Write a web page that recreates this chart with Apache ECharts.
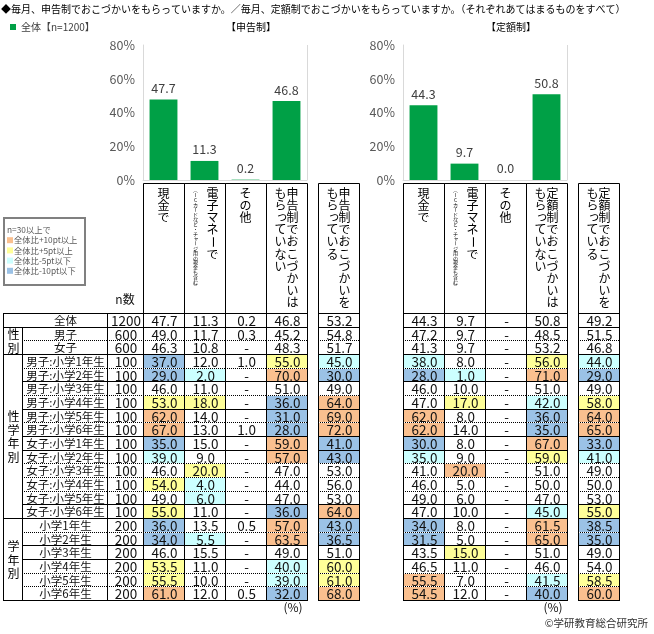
<!DOCTYPE html>
<html><head><meta charset="utf-8">
<script src="https://cdn.jsdelivr.net/npm/echarts@6/dist/echarts.min.js"></script>
<style>html,body{margin:0;padding:0;background:#fff}#c{width:654px;height:634px}</style>
</head><body><div id="c"></div><script>
const FONT = '"Noto Sans CJK JP", "Noto Sans", sans-serif';

// ---------- data ----------
const rowLabels = ['全体','男子','女子',
  '男子:小学1年生','男子:小学2年生','男子:小学3年生','男子:小学4年生','男子:小学5年生','男子:小学6年生',
  '女子:小学1年生','女子:小学2年生','女子:小学3年生','女子:小学4年生','女子:小学5年生','女子:小学6年生',
  '小学1年生','小学2年生','小学3年生','小学4年生','小学5年生','小学6年生'];
const rowN = [1200,600,600,100,100,100,100,100,100,100,100,100,100,100,100,200,200,200,200,200,200];
const groupLabels = ['', '性別', '性学年別', '学年別'];
const groupFirstRow = [0, 1, 3, 15];
const groupLastRow = [0, 2, 14, 20];

const headShinkoku = ['現金で','電子マネーで','その他','申告制でおこづかいは\nもらっていない'];
const headShinkokuExtra = ['申告制でおこづかいを\nもらっている'];
const headTeigaku = ['現金で','電子マネーで','その他','定額制でおこづかいは\nもらっていない'];
const headTeigakuExtra = ['定額制でおこづかいを\nもらっている'];
const headNote = ['', '（ICカードなど・チャージ用の現金も含む）', '', ''];

const barShinkoku = [47.7, 11.3, 0.2, 46.8];
const barTeigaku = [44.3, 9.7, 0.0, 50.8];

const shinkokuGenkin = [47.7,49.0,46.3,37.0,29.0,46.0,53.0,62.0,67.0,35.0,39.0,46.0,54.0,49.0,55.0,36.0,34.0,46.0,53.5,55.5,61.0];
const shinkokuDenshi = [11.3,11.7,10.8,12.0,2.0,11.0,18.0,14.0,13.0,15.0,9.0,20.0,4.0,6.0,11.0,13.5,5.5,15.5,11.0,10.0,12.0];
const shinkokuSonota = [0.2,0.3,null,1.0,null,null,null,null,1.0,null,null,null,null,null,null,0.5,null,null,null,null,0.5];
const shinkokuNashi = [46.8,45.2,48.3,55.0,70.0,51.0,36.0,31.0,28.0,59.0,57.0,47.0,44.0,47.0,36.0,57.0,63.5,49.0,40.0,39.0,32.0];
const shinkokuAri = [53.2,54.8,51.7,45.0,30.0,49.0,64.0,69.0,72.0,41.0,43.0,53.0,56.0,53.0,64.0,43.0,36.5,51.0,60.0,61.0,68.0];

const teigakuGenkin = [44.3,47.2,41.3,38.0,28.0,46.0,47.0,62.0,62.0,30.0,35.0,41.0,46.0,49.0,47.0,34.0,31.5,43.5,46.5,55.5,54.5];
const teigakuDenshi = [9.7,9.7,9.7,8.0,1.0,10.0,17.0,8.0,14.0,8.0,9.0,20.0,5.0,6.0,10.0,8.0,5.0,15.0,11.0,7.0,12.0];
const teigakuSonota = [null,null,null,null,null,null,null,null,null,null,null,null,null,null,null,null,null,null,null,null,null];
const teigakuNashi = [50.8,48.5,53.2,56.0,71.0,51.0,42.0,36.0,35.0,67.0,59.0,51.0,50.0,47.0,45.0,61.5,65.0,51.0,46.0,41.5,40.0];
const teigakuAri = [49.2,51.5,46.8,44.0,29.0,49.0,58.0,64.0,65.0,33.0,41.0,49.0,50.0,53.0,55.0,38.5,35.0,49.0,54.0,58.5,60.0];

const legendLabels = ['n=30以上で','全体比+10pt以上','全体比+5pt以上','全体比-5pt以下','全体比-10pt以下'];

// ---------- styles ----------
const BAR_COLOR = '#00A046';
const C_P10 = '#FAC08F', C_P5 = '#FFFF99', C_M5 = '#CCFFFF', C_M10 = '#9BC2E6';
const rowTopLine = ['s','s','d','s','d','s','d','s','d','s','s','d','d','d','s','s','d','s','s','d','d'];
const TXT = '#111';

function highlight(v, base, n) {
  if (v == null || base == null || n < 30) return null;
  const d = Math.round((v - base) * 10) / 10;
  if (d >= 10) return C_P10;
  if (d >= 5) return C_P5;
  if (d <= -10) return C_M10;
  if (d <= -5) return C_M5;
  return null;
}

function px(v) { return Math.round(v) + 0.5; }
function ln(x1, y1, x2, y2, dotted) {
  return {type: 'line', shape: {x1, y1, x2, y2},
    style: {stroke: '#000', lineWidth: 1, lineDash: dotted ? [1, 1] : null}};
}
const ROT = 'ー（）()-－';
const SMALL = 'っゃゅょッャュョァィ';
function vChars(ch, str, x, y, fs, step) {
  for (let k = 0; k < str.length; k++) {
    const c = str[k];
    let cx = x, cy = y + k * step;
    if (SMALL.indexOf(c) >= 0) { cx += fs * 0.12; cy -= fs * 0.12; }
    ch.push({type: 'text', x: cx, y: cy, rotation: ROT.indexOf(c) >= 0 ? -Math.PI / 2 : 0,
      style: {text: c, fill: '#000', fontSize: fs, fontFamily: FONT, align: 'center', verticalAlign: 'middle'}});
  }
}

// ---------- layout ----------
const grids = [], xAxes = [], yAxes = [], series = [];
function addGrid(rect, xCfg, yCfg) {
  const i = grids.length;
  grids.push(Object.assign({containLabel: false}, rect));
  xAxes.push(Object.assign({gridIndex: i}, xCfg));
  yAxes.push(Object.assign({gridIndex: i}, yCfg));
  return i;
}
const hiddenCat = (data) => ({type: 'category', data, show: false});
const rowAxis = () => ({type: 'category', data: rowLabels, inverse: true, show: false});

const TBL_TOP = 313, TBL_H = 287, HDR_TOP = 183, HDR_H = 130;

// bar charts
function barChart(left, cats, values) {
  const g = addGrid({left, top: 45, width: 164, height: 135},
    {type: 'category', data: cats, axisLabel: {show: false}, axisTick: {show: false},
     axisLine: {lineStyle: {color: '#d9d9d9'}}, splitLine: {show: true, lineStyle: {color: '#d9d9d9'}}},
    {type: 'value', min: 0, max: 80, interval: 20,
     axisLabel: {formatter: '{value}%', fontSize: 12.5, color: '#595959', fontFamily: FONT, margin: 8},
     axisLine: {show: true, lineStyle: {color: '#d9d9d9'}}, axisTick: {show: false}, splitLine: {show: false}});
  series.push({type: 'bar', name: '全体【n=1200】', xAxisIndex: g, yAxisIndex: g, data: values,
    barWidth: '68%', itemStyle: {color: BAR_COLOR},
    label: {show: true, position: 'top', distance: 5, formatter: (p) => p.value.toFixed(1),
      fontSize: 12.5, color: '#404040', fontFamily: FONT}});
}
barChart(143, headShinkoku.map(s => s.replace('\n', '')), barShinkoku);
barChart(403, headTeigaku.map(s => s.replace('\n', '')), barTeigaku);

// headers
function headerBlock(left, width, labels, notes) {
  const g = addGrid({left, top: HDR_TOP, width, height: HDR_H}, hiddenCat(labels),
    {type: 'value', min: 0, max: 1, show: false});
  series.push({type: 'custom', xAxisIndex: g, yAxisIndex: g, data: labels.map((_, i) => [i, 1]),
    renderItem: function (params, api) {
      const i = params.dataIndex;
      const top = api.coord([i, 1]), bot = api.coord([i, 0]);
      const w = api.size([1, 0])[0];
      const cx = bot[0];
      const X0 = px(cx - w / 2), X1 = px(cx + w / 2), Y0 = px(top[1]), Y1 = px(bot[1]);
      const ch = [{type: 'rect', shape: {x: X0, y: Y0, width: X1 - X0, height: Y1 - Y0},
        style: {fill: 'none', stroke: '#000', lineWidth: 1}}];
      const parts = labels[i].split('\n');
      const note = notes ? notes[i] : '';
      const sy = Y0 + 10;
      if (note) {
        vChars(ch, parts[0], cx + 8, sy, 12, 12.1);
        vChars(ch, note, cx - 9, Y0 + 7, 5, 4.8);
      } else if (parts.length === 2) {
        vChars(ch, parts[0], cx + 6, sy, 12, 12.1);
        vChars(ch, parts[1], cx - 6, sy, 12, 12.1);
      } else {
        vChars(ch, parts[0], cx, sy, 12, 12.1);
      }
      return {type: 'group', children: ch};
    }});
}
headerBlock(143, 164, headShinkoku, headNote);
headerBlock(318, 41, headShinkokuExtra, null);
headerBlock(403, 164, headTeigaku, headNote);
headerBlock(578, 41, headTeigakuExtra, null);

// generic table cell renderer
function cellSeries(g, items, fontSize) {
  const last = rowLabels.length - 1;
  series.push({type: 'custom', xAxisIndex: g, yAxisIndex: g, data: items.map(d => d.value),
    renderItem: function (params, api) {
      const it = items[params.dataIndex];
      const r = it.value[1];
      const c = api.coord(it.value);
      const s = api.size([1, 1]);
      const X0 = Math.round(c[0] - s[0] / 2), X1 = Math.round(c[0] + s[0] / 2);
      const Y0 = Math.round(c[1] - s[1] / 2), Y1 = Math.round(c[1] + s[1] / 2);
      const ch = [];
      if (it.fill) ch.push({type: 'rect', shape: {x: X0 + 1, y: Y0 + 1, width: X1 - X0 - 1, height: Y1 - Y0 - 1}, style: {fill: it.fill}});
      ch.push(ln(X0, Y0 + 0.5, X1 + 1, Y0 + 0.5, rowTopLine[r] === 'd' && !it.solidTop));
      if (!it.noLeft) ch.push(ln(X0 + 0.5, Y0, X0 + 0.5, Y1 + 1));
      if (!it.noRight) ch.push(ln(X1 + 0.5, Y0, X1 + 0.5, Y1 + 1));
      if (r === last) ch.push(ln(X0, Y1 + 0.5, X1 + 1, Y1 + 0.5));
      if (it.text) ch.push({type: 'text', x: (X0 + X1) / 2 + 1, y: (Y0 + Y1) / 2 + 1,
        style: {text: it.text, fill: TXT, fontSize: fontSize, fontFamily: FONT, align: 'center', verticalAlign: 'middle'}});
      return {type: 'group', children: ch};
    }});
}
function dataBlock(left, width, cols) {
  const g = addGrid({left, top: TBL_TOP, width, height: TBL_H}, hiddenCat(cols.map((_, i) => 'c' + i)), rowAxis());
  const items = [];
  for (let r = 0; r < rowLabels.length; r++) for (let c = 0; c < cols.length; c++) {
    const v = cols[c][r];
    items.push({value: [c, r], text: v == null ? '-' : v.toFixed(1), fill: highlight(v, cols[c][0], rowN[r])});
  }
  cellSeries(g, items, 13.5);
}
dataBlock(143, 164, [shinkokuGenkin, shinkokuDenshi, shinkokuSonota, shinkokuNashi]);
dataBlock(318, 41, [shinkokuAri]);
dataBlock(403, 164, [teigakuGenkin, teigakuDenshi, teigakuSonota, teigakuNashi]);
dataBlock(578, 41, [teigakuAri]);

// row label column
{
  const g = addGrid({left: 22, top: TBL_TOP, width: 85, height: TBL_H}, hiddenCat(['label']), rowAxis());
  const items = rowLabels.map((t, r) => ({value: [0, r], text: t, noLeft: r === 0}));
  cellSeries(g, items, 11.5);
}
// n column
{
  const g = addGrid({left: 107, top: TBL_TOP, width: 36, height: TBL_H},
    {type: 'category', data: ['n'], position: 'top', name: 'n数', nameLocation: 'middle', nameGap: 8,
     nameTextStyle: {fontSize: 12, color: TXT, fontFamily: FONT},
     axisLine: {show: false}, axisTick: {show: false}, axisLabel: {show: false}}, rowAxis());
  const items = rowN.map((n, r) => ({value: [0, r], text: String(n)}));
  cellSeries(g, items, 13.5);
}
// group column
{
  const g = addGrid({left: 3, top: TBL_TOP, width: 19, height: TBL_H}, hiddenCat(['grp']), rowAxis());
  series.push({type: 'custom', xAxisIndex: g, yAxisIndex: g, data: groupLabels.map((_, i) => [0, groupFirstRow[i]]),
    renderItem: function (params, api) {
      const i = params.dataIndex;
      const a = api.coord([0, groupFirstRow[i]]), b = api.coord([0, groupLastRow[i]]);
      const s = api.size([1, 1]);
      const X0 = Math.round(a[0] - s[0] / 2), X1 = Math.round(a[0] + s[0] / 2);
      const Y0 = Math.round(a[1] - s[1] / 2), Y1 = Math.round(b[1] + s[1] / 2);
      const ch = [ln(X0, Y0 + 0.5, X1 + 1, Y0 + 0.5), ln(X0 + 0.5, Y0, X0 + 0.5, Y1 + 1)];
      if (groupLabels[i]) ch.push(ln(X1 + 0.5, Y0, X1 + 0.5, Y1 + 1));
      if (groupLastRow[i] === rowLabels.length - 1) ch.push(ln(X0, Y1 + 0.5, X1 + 1, Y1 + 0.5));
      const t = groupLabels[i];
      const step = 13.5;
      const cy = (Y0 + Y1) / 2 + 1 - (t.length - 1) * step / 2;
      vChars(ch, t, (X0 + X1) / 2 + 1, cy, 12, step);
      return {type: 'group', children: ch};
    }});
}

// ---------- legend box (graphic) ----------
const swatches = [null, C_P10, C_P5, C_M5, C_M10];
const graphic = [{type: 'rect', shape: {x: 4, y: 218, width: 81, height: 67},
  style: {fill: '#fff', stroke: '#808080', lineWidth: 2}}];
legendLabels.forEach((t, i) => {
  const cy = 230 + i * 10.2;
  if (swatches[i]) graphic.push({type: 'rect', shape: {x: 7, y: cy - 3, width: 6, height: 6}, style: {fill: swatches[i]}});
  graphic.push({type: 'text', x: swatches[i] ? 14 : 7, y: cy,
    style: {text: t, fill: '#595959', fontSize: 8.3, fontFamily: FONT, verticalAlign: 'middle'}});
});
graphic.push({type: 'text', x: 293, y: 607, style: {text: '(%)', fill: TXT, fontSize: 12, fontFamily: FONT, align: 'center', verticalAlign: 'middle'}});
graphic.push({type: 'text', x: 553, y: 607, style: {text: '(%)', fill: TXT, fontSize: 12, fontFamily: FONT, align: 'center', verticalAlign: 'middle'}});
graphic.push({type: 'text', x: 648, y: 623, style: {text: '©学研教育総合研究所', fill: '#333', fontSize: 10.5, fontFamily: FONT, align: 'right', verticalAlign: 'middle'}});

const chart = echarts.init(document.getElementById('c'));
chart.setOption({
  animation: false,
  backgroundColor: '#fff',
  textStyle: {fontFamily: FONT},
  title: [
    {text: '◆毎月、申告制でおこづかいをもらっていますか。／毎月、定額制でおこづかいをもらっていますか。（それぞれあてはまるものをすべて）',
     left: 1, top: 4, padding: 0, textStyle: {fontSize: 10, fontWeight: 'normal', color: '#000', fontFamily: FONT}},
    {text: '【申告制】', left: 226, top: 22, padding: 0, textStyle: {fontSize: 10, fontWeight: 'normal', color: '#000', fontFamily: FONT}},
    {text: '【定額制】', left: 486, top: 22, padding: 0, textStyle: {fontSize: 10, fontWeight: 'normal', color: '#000', fontFamily: FONT}}
  ],
  legend: {data: ['全体【n=1200】'], left: 10, top: 22, padding: 0, icon: 'rect', itemWidth: 6, itemHeight: 6,
    textStyle: {fontSize: 10, color: '#404040', fontFamily: FONT}},
  grid: grids, xAxis: xAxes, yAxis: yAxes, series: series, graphic: graphic
});
</script></body></html>
